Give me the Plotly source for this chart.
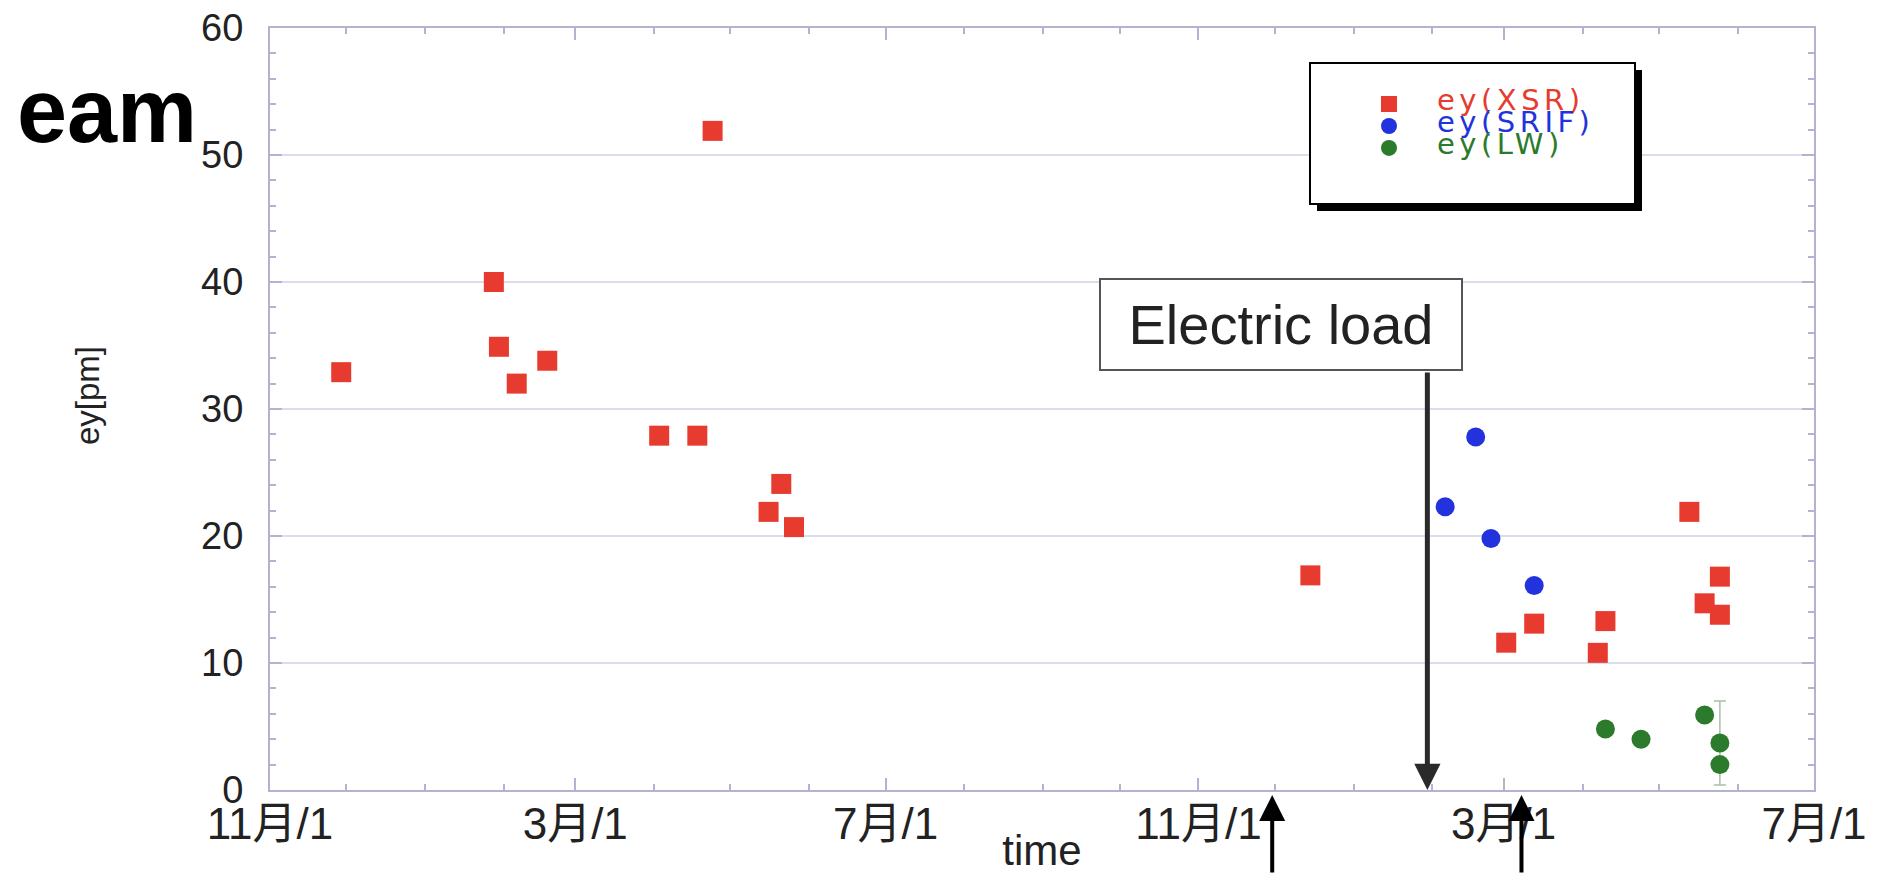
import plotly.graph_objects as go

# ---- data -------------------------------------------------------------
x_range = ["2004-11-01", "2006-07-01"]
tick_dates = ["2004-11-01", "2005-03-01", "2005-07-01",
              "2005-11-01", "2006-03-01", "2006-07-01"]
tick_labels = ["11月/1", "3月/1", "7月/1", "11月/1", "3月/1", "7月/1"]

xsr_dates = ["2004-11-29", "2005-01-28", "2005-01-30", "2005-02-06", "2005-02-18",
             "2005-04-03", "2005-04-18", "2005-04-24", "2005-05-16", "2005-05-21",
             "2005-05-26", "2005-12-15", "2006-03-02", "2006-03-13", "2006-04-07",
             "2006-04-10", "2006-05-13", "2006-05-19", "2006-05-25", "2006-05-25"]
xsr_ey = [32.9, 40.0, 34.9, 32.0, 33.8,
          27.9, 27.9, 51.9, 21.9, 24.1,
          20.7, 16.9, 11.6, 13.1, 10.8,
          13.3, 21.9, 14.7, 16.8, 13.8]

srif_dates = ["2006-02-06", "2006-02-18", "2006-02-24", "2006-03-13"]
srif_ey = [22.3, 27.8, 19.8, 16.1]

lw_dates = ["2006-04-10", "2006-04-24", "2006-05-19", "2006-05-25", "2006-05-25"]
lw_ey = [4.8, 4.0, 5.9, 3.7, 2.0]
lw_err = [None, None, None, 3.3, None]

series_names = ["ey(XSR)", "ey(SRIF)", "ey(LW)"]
series_colors = ["#E63B2E", "#2233DD", "#2C7A2C"]

load_label = "Electric load"
load_date = "2006-01-30"
event_dates = ["2005-11-30", "2006-03-08"]

# ---- geometry helpers -------------------------------------------------
W, H = 1877, 874
M = dict(l=270, r=63, t=28, b=84)
PW = W - M["l"] - M["r"]
PH = H - M["t"] - M["b"]


def px_x(px):
    return (px - M["l"]) / PW


def px_y(py):
    return (H - M["b"] - py) / PH


FONT = "Liberation Sans, Arial, Noto Sans CJK JP, sans-serif"
AXIS_COL = "#b3b3d1"
GRID_COL = "#dcdcea"


def legend_label(text, color):
    return (f'<span style="color:{color};font-size:29px;'
            f'font-family:DejaVu Sans;letter-spacing:4.5px">{text}</span>')


fig = go.Figure()

fig.add_trace(go.Scatter(
    x=xsr_dates, y=xsr_ey, mode="markers",
    name=legend_label(series_names[0], series_colors[0]),
    marker=dict(symbol="square", size=20, color=series_colors[0]),
))
fig.add_trace(go.Scatter(
    x=srif_dates, y=srif_ey, mode="markers",
    name=legend_label(series_names[1], series_colors[1]),
    marker=dict(symbol="circle", size=19, color=series_colors[1]),
))
fig.add_trace(go.Scatter(
    x=lw_dates, y=lw_ey, mode="markers",
    name=legend_label(series_names[2], series_colors[2]),
    marker=dict(symbol="circle", size=19, color=series_colors[2]),
    error_y=dict(type="data", array=lw_err, symmetric=True,
                 color="#a9bfa9", thickness=1.5, width=6),
))

axis_common = dict(
    showline=True, linecolor=AXIS_COL, linewidth=2, mirror="ticks",
    ticks="inside", ticklen=12, tickwidth=2, tickcolor=AXIS_COL,
    zeroline=False, automargin=False,
)

fig.update_xaxes(
    **axis_common,
    type="date", range=x_range,
    tickvals=tick_dates, ticktext=tick_labels,
    tickfont=dict(family=FONT, size=44, color="#222"),
    showgrid=False, ticklabelstandoff=-6,
    minor=dict(tick0=x_range[0], dtick="M1", ticks="inside", ticklen=6,
               tickwidth=2, tickcolor=AXIS_COL, showgrid=False),
    title=dict(text="time", font=dict(family=FONT, size=42, color="#222"),
               standoff=14),
)
fig.update_yaxes(
    **axis_common,
    range=[0, 60], dtick=10, tick0=0,
    tickfont=dict(family=FONT, size=38, color="#222"),
    showgrid=True, gridcolor=GRID_COL, gridwidth=1.5,
    ticklabelstandoff=17,
    minor=dict(dtick=2, ticks="inside", ticklen=6, tickwidth=2,
               tickcolor=AXIS_COL, showgrid=False),
)

# legend frame with drop shadow
fig.add_shape(type="rect", xref="paper", yref="paper", layer="above",
              x0=px_x(1317), x1=px_x(1642), y0=px_y(211), y1=px_y(70),
              fillcolor="black", line=dict(width=0))
fig.add_shape(type="rect", xref="paper", yref="paper", layer="above",
              x0=px_x(1310), x1=px_x(1635), y0=px_y(204), y1=px_y(63),
              fillcolor="white", line=dict(color="black", width=2))

annotations = [
    dict(text="eam", xref="paper", yref="paper", x=px_x(15), y=px_y(111),
         xanchor="left", yanchor="middle", showarrow=False,
         font=dict(family="Liberation Sans, Arial", size=90, color="black",
                   weight="bold")),
    dict(text="ey[pm]", xref="paper", yref="paper", x=px_x(87), y=px_y(396),
         xanchor="center", yanchor="middle", textangle=-90, showarrow=False,
         font=dict(family=FONT, size=33, color="#222")),
    dict(text=load_label, xref="paper", yref="paper",
         x=px_x(1281), y=px_y(324.5), xanchor="center", yanchor="middle",
         showarrow=False, width=358, height=87, bgcolor="white",
         bordercolor="#555", borderwidth=2,
         font=dict(family=FONT, size=56, color="#222")),
    dict(text="", x=load_date, y=0, xref="x", yref="y",
         ax=0, ay=-(H - M["b"] - 371), showarrow=True,
         arrowhead=2, arrowsize=1.05, arrowwidth=5, arrowcolor="#2a2a2a"),
]
for d in event_dates:
    annotations.append(dict(
        text="", x=d, y=px_y(795), xref="x", yref="paper",
        ax=0, ay=100, showarrow=True,
        arrowhead=2, arrowsize=1.3, arrowwidth=4, arrowcolor="black"))

fig.update_layout(
    width=W, height=H, margin=M,
    paper_bgcolor="white", plot_bgcolor="white",
    showlegend=True,
    legend=dict(x=px_x(1341), y=px_y(88), xanchor="left", yanchor="top",
                bgcolor="rgba(0,0,0,0)", borderwidth=0, itemwidth=86,
                font=dict(family=FONT, size=14.6)),
    annotations=annotations,
)

fig.write_html("out.html")
